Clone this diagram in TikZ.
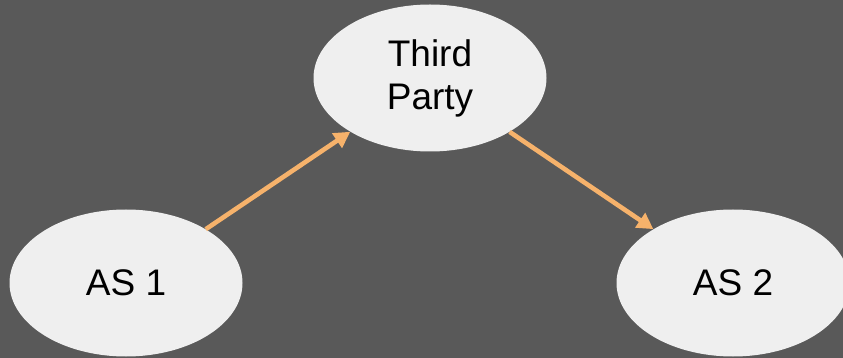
\documentclass[tikz,border=0pt]{standalone}
\usepackage{fontspec}
\setmainfont{Liberation Sans}
\usetikzlibrary{shapes.geometric,arrows.meta}
\definecolor{bg}{HTML}{595959}
\definecolor{ell}{HTML}{EFEFEF}
\definecolor{arr}{HTML}{F6B26B}
\tikzset{
  bubble/.style={ellipse, fill=ell, minimum width=233pt, minimum height=147pt, inner sep=0pt,
    font=\fontsize{37}{43}\selectfont, align=center, text=black},
  link/.style={draw=arr, line width=4.6pt, -{Triangle[width=17pt,length=16pt]}}
}
\begin{document}
\begin{tikzpicture}[x=1pt,y=-1pt]
\fill[bg] (0,0) rectangle (843,358);
\useasboundingbox (0,0) rectangle (843,358);
\node[bubble] (tp) at (430,78) {Third\\Party};
\node[bubble] (as1) at (126,283) {AS 1};
\node[bubble] (as2) at (733,283) {AS 2};
\draw[link] (as1) -- (tp);
\draw[link] (tp) -- (as2);
\end{tikzpicture}
\end{document}
